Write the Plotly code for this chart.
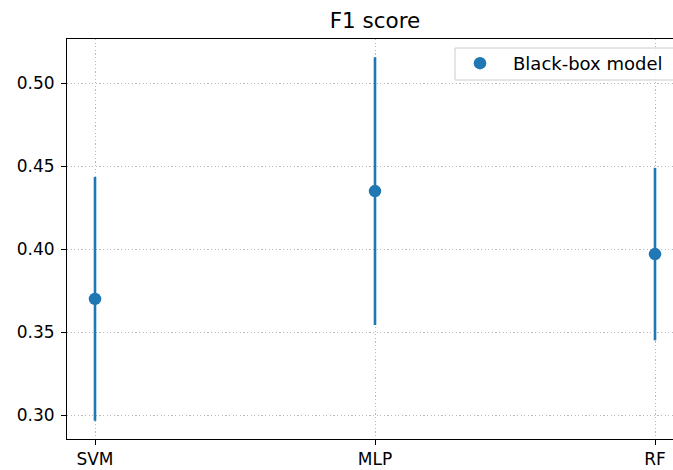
import plotly.graph_objects as go

# Mean F1 score and spread for each black-box model
models = ["SVM", "MLP", "RF"]
f1_mean = [0.370, 0.435, 0.397]
f1_err = [0.0735, 0.0807, 0.052]

y_ticks = [0.30, 0.35, 0.40, 0.45, 0.50]
y_tick_labels = ["0.30", "0.35", "0.40", "0.45", "0.50"]

BLUE = "#1f77b4"
FONT = "DejaVu Sans"

# plot area in pixels
W, H = 673, 470
L, T, B = 67, 39, 31
PW, PH = W - L, H - T - B

# category positions 0..n-1, with 5% padding like a default errorbar plot
x_pos = list(range(len(models)))
lo = min(m - e for m, e in zip(f1_mean, f1_err))
hi = max(m + e for m, e in zip(f1_mean, f1_err))
pad = 0.05 * (hi - lo)

fig = go.Figure()
fig.add_trace(go.Scatter(
    x=x_pos, y=f1_mean,
    mode="markers",
    name="Black-box model",
    marker=dict(color=BLUE, size=12.5),
    error_y=dict(type="data", array=f1_err, visible=True,
                 color=BLUE, thickness=2.6, width=0),
))

grid = dict(showgrid=True, gridcolor="#b8b8b8", gridwidth=1, griddash="1.2px,2.4px")


def px_x(p):
    return (p - L) / PW


def px_y(p):
    return (H - B - p) / PH


# legend frame (runs past the right edge of the figure)
fig.add_shape(type="rect", xref="paper", yref="paper",
              x0=px_x(455), x1=px_x(700), y0=px_y(80), y1=px_y(48),
              fillcolor="rgba(255,255,255,0.85)", line=dict(color="#cccccc", width=1),
              layer="above")

fig.update_layout(
    width=W, height=H,
    margin=dict(l=L, r=0, t=T, b=B, autoexpand=False),
    plot_bgcolor="white", paper_bgcolor="white",
    font=dict(family=FONT, size=17, color="black"),
    title=dict(text="F1 score", x=375 / W, xanchor="center", xref="container",
               y=1 - 20 / H, yanchor="middle", yref="container",
               font=dict(family=FONT, size=21.5, color="black")),
    xaxis=dict(range=[-0.1, -0.1 + PW / 280], tickvals=x_pos, ticktext=models,
               ticks="outside", ticklen=5, tickwidth=1, tickcolor="black",
               showline=True, linecolor="black", linewidth=1, mirror=True,
               zeroline=False, **grid),
    yaxis=dict(range=[lo - pad, hi + pad], tickvals=y_ticks, ticktext=y_tick_labels,
               ticks="outside", ticklen=5, tickwidth=1, tickcolor="black",
               ticklabelstandoff=3,
               showline=True, linecolor="black", linewidth=1,
               zeroline=False, **grid),
    legend=dict(x=px_x(447), xanchor="left", y=px_y(45), yanchor="top",
                bgcolor="rgba(0,0,0,0)", borderwidth=0,
                itemwidth=56,
                font=dict(family=FONT, size=18, color="black")),
    showlegend=True,
)

fig.write_html("out.html")
